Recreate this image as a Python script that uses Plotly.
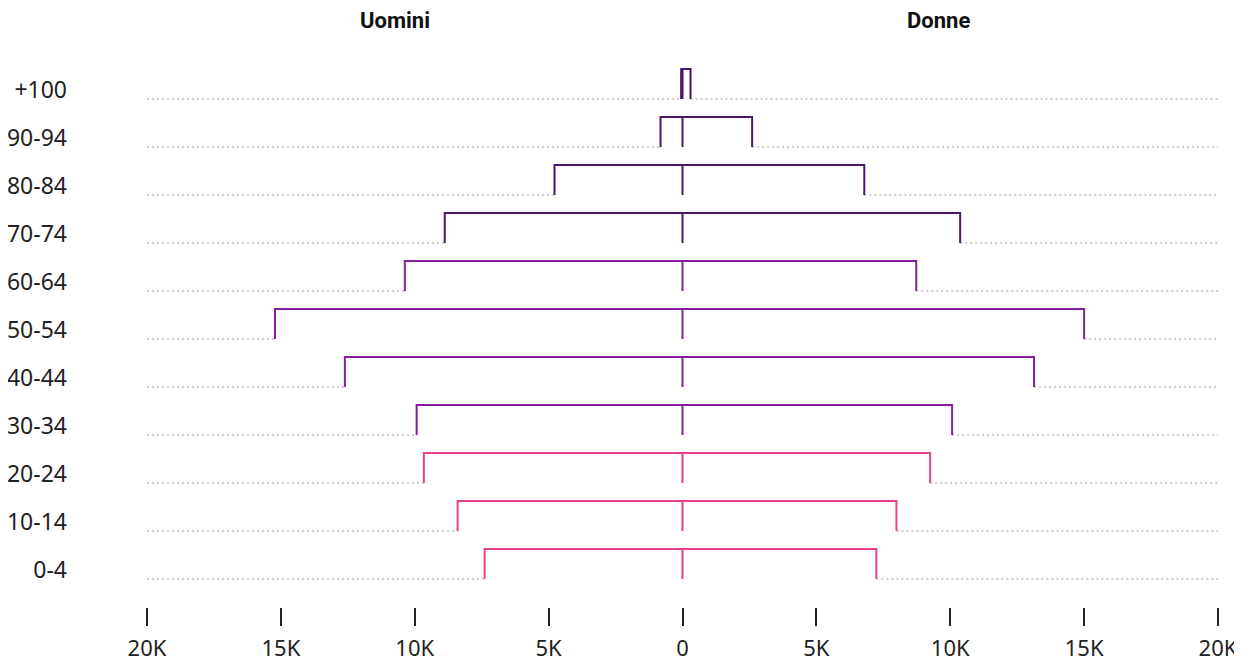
import plotly.graph_objects as go

# classi di età, dal basso verso l'alto
eta = ["0-4", "10-14", "20-24", "30-34", "40-44", "50-54", "60-64", "70-74", "80-84", "90-94", "+100"]
uomini = [7390, 8400, 9660, 9930, 12610, 15220, 10370, 8880, 4780, 820, 50]
donne = [7240, 7990, 9250, 10070, 13130, 15000, 8730, 10370, 6790, 2600, 300]
colori = ["#e8408b", "#e8408b", "#e8408b",
          "#861f9c", "#861f9c", "#861f9c", "#861f9c",
          "#4a176d", "#4a176d", "#4a176d", "#4a176d"]

tick_val = [-20000, -15000, -10000, -5000, 0, 5000, 10000, 15000, 20000]
tick_txt = ["20K", "15K", "10K", "5K", "0", "5K", "10K", "15K", "20K"]

ALT = 0.625   # altezza della "parentesi"
LIM = 20000

fig = go.Figure()

for i, (m, f, c) in enumerate(zip(uomini, donne, colori)):
    base, top = i, i + ALT
    # linee tratteggiate fuori dalla parentesi
    fig.add_trace(go.Scatter(
        x=[-LIM, -m, None, f, LIM], y=[base, base, None, base, base],
        mode="lines", line=dict(color="#cccccc", width=2, dash="2px,3px"),
        hoverinfo="skip", showlegend=False))
    # parentesi + linea centrale
    fig.add_trace(go.Scatter(
        x=[-m, -m, f, f, None, 0, 0],
        y=[base, top, top, base, None, top, base],
        mode="lines", line=dict(color=c, width=2),
        name=eta[i], showlegend=False,
        hovertemplate="Uomini: %{customdata[0]}<br>Donne: %{customdata[1]}<extra>" + eta[i] + "</extra>",
        customdata=[[m, f]] * 7))

# la pagina ha 8px di margine del body: la figura parte da (8, 8)
fig.update_layout(
    width=1242, height=662,
    margin=dict(l=139, r=32, t=32, b=63),
    plot_bgcolor="white", paper_bgcolor="white",
    font=dict(family="Noto Sans, sans-serif", size=23, color="#222222"),
    xaxis=dict(range=[-LIM, LIM], tickvals=tick_val, ticktext=tick_txt,
               ticks="outside", ticklen=18, tickwidth=1.5, tickcolor="#222222",
               ticklabelstandoff=4, automargin=False, tickfont=dict(size=22),
               showgrid=False, zeroline=False, showline=False, fixedrange=True),
    yaxis=dict(range=[-0.583, 11.229], tickvals=[i + 0.19 for i in range(len(eta))],
               ticktext=eta, ticks="", ticklabelstandoff=79, automargin=False,
               showgrid=False, zeroline=False, showline=False, fixedrange=True),
    annotations=[
        dict(text="<b>Uomini</b>", x=0.2316, y=1.035, xref="paper", yref="paper",
             showarrow=False, xanchor="center", yanchor="middle",
             font=dict(family="Roboto, sans-serif", size=22, color="#111111")),
        dict(text="<b>Donne</b>", x=0.7386, y=1.035, xref="paper", yref="paper",
             showarrow=False, xanchor="center", yanchor="middle",
             font=dict(family="Roboto, sans-serif", size=22, color="#111111")),
    ],
)

fig.write_html("out.html")
